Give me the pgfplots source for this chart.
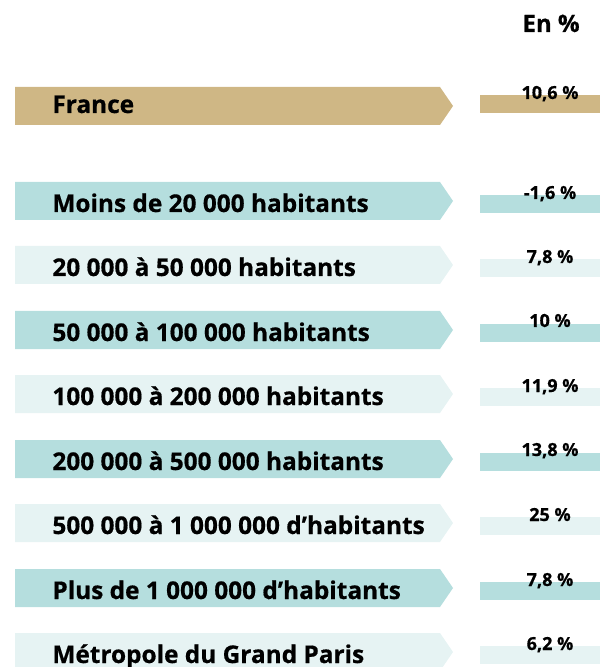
\documentclass[border=0pt]{standalone}
\usepackage{fontspec}
\setmainfont{Open Sans}[BoldFeatures={FakeBold=0.6}]
\usepackage{pgfplots}
\pgfplotsset{compat=1.18}
\definecolor{gold}{HTML}{CFB785}
\definecolor{tealdark}{HTML}{B5DEDE}
\definecolor{teallight}{HTML}{E6F3F3}
\begin{document}
\begin{tikzpicture}
\begin{axis}[
  x=0.5pt, y=0.5pt, y dir=reverse,
  xmin=0, xmax=600, ymin=0, ymax=667,
  axis lines=none, ticks=none,
]
% arrow banners (top y, height 38)
\addplot[fill=gold, draw=none] coordinates {(15,87) (440,87) (453,106) (440,125) (15,125)};
\addplot[fill=tealdark, draw=none] coordinates {(15,182) (440,182) (453,201) (440,220) (15,220)};
\addplot[fill=teallight, draw=none] coordinates {(15,246) (440,246) (453,265) (440,284) (15,284)};
\addplot[fill=tealdark, draw=none] coordinates {(15,311) (440,311) (453,330) (440,349) (15,349)};
\addplot[fill=teallight, draw=none] coordinates {(15,375) (440,375) (453,394) (440,413) (15,413)};
\addplot[fill=tealdark, draw=none] coordinates {(15,440) (440,440) (453,459) (440,478) (15,478)};
\addplot[fill=teallight, draw=none] coordinates {(15,504) (440,504) (453,523) (440,542) (15,542)};
\addplot[fill=tealdark, draw=none] coordinates {(15,569) (440,569) (453,588) (440,607) (15,607)};
\addplot[fill=teallight, draw=none] coordinates {(15,633) (440,633) (453,652) (440,671) (15,671)};
% value strips
\addplot[fill=gold, draw=none] coordinates {(480,95) (600,95) (600,113) (480,113)};
\addplot[fill=tealdark, draw=none] coordinates {(480,195) (600,195) (600,213) (480,213)};
\addplot[fill=teallight, draw=none] coordinates {(480,259) (600,259) (600,277) (480,277)};
\addplot[fill=tealdark, draw=none] coordinates {(480,324) (600,324) (600,342) (480,342)};
\addplot[fill=teallight, draw=none] coordinates {(480,388) (600,388) (600,406) (480,406)};
\addplot[fill=tealdark, draw=none] coordinates {(480,453) (600,453) (600,471) (480,471)};
\addplot[fill=teallight, draw=none] coordinates {(480,517) (600,517) (600,535) (480,535)};
\addplot[fill=tealdark, draw=none] coordinates {(480,582) (600,582) (600,600) (480,600)};
\addplot[fill=teallight, draw=none] coordinates {(480,646) (600,646) (600,664) (480,664)};
% category labels
\addplot[draw=none, mark=none, point meta=explicit symbolic, nodes near coords,
  nodes near coords style={anchor=base west, inner sep=0pt,
    font=\fontsize{12.2}{13}\selectfont\bfseries}] coordinates {
  (52,113) [France]
  (52,212) [Moins de 20 000 habitants]
  (52,276) [20 000 à 50 000 habitants]
  (52,341) [50 000 à 100 000 habitants]
  (52,405) [100 000 à 200 000 habitants]
  (52,470) [200 000 à 500 000 habitants]
  (52,534) [500 000 à 1 000 000 d’habitants]
  (52,599) [Plus de 1 000 000 d’habitants]
  (52,663) [Métropole du Grand Paris]
};
% values
\addplot[draw=none, mark=none, point meta=explicit, nodes near coords={\pgfmathprintnumber{\pgfplotspointmeta}~\%},
  nodes near coords style={anchor=base, inner sep=0pt,
    font=\fontsize{9}{10}\selectfont\bfseries,
    /pgf/number format/.cd, use comma, fixed, precision=1, assume math mode=true}] coordinates {
  (550,99) [10.6]
  (550,199) [-1.6]
  (550,263) [7.8]
  (550,327) [10]
  (550,392) [11.9]
  (550,456) [13.8]
  (550,521) [25]
  (550,586) [7.8]
  (550,650) [6.2]
};
\node[anchor=base east, inner sep=0pt, font=\fontsize{12}{13}\selectfont\bfseries] at (axis cs:580,32) {En \%};
\end{axis}
\pgfresetboundingbox
\path (current axis.south west) rectangle (current axis.north east);
\end{tikzpicture}
\end{document}
